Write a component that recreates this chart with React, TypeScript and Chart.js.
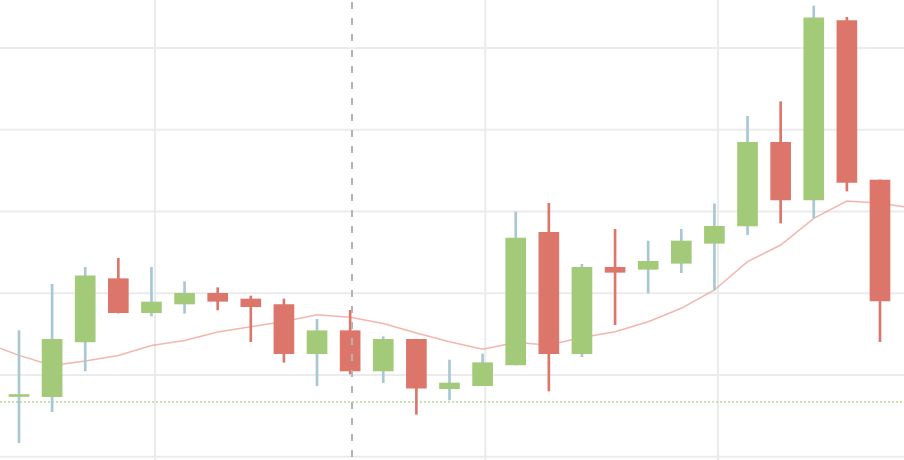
import React, { useEffect, useRef } from "react";
import { Chart, registerables } from "chart.js";

Chart.register(...registerables);

// Candle index positions (trading days)
const days = Array.from({ length: 27 }, (_, i) => i);

const opens = [2186.85, 2186.73, 2220.18, 2258.9, 2238.1, 2243.43, 2249.97, 2246.48, 2243.0, 2213.03, 2227.09, 2202.45, 2221.83, 2191.62, 2193.46, 2206.12, 2287.28, 2213.03, 2265.87, 2264.65, 2268.32, 2280.55, 2291.13, 2342.32, 2307.03, 2416.7, 2319.27];
const closes = [2187.77, 2221.83, 2260.73, 2238.1, 2244.65, 2249.97, 2245.08, 2241.77, 2213.03, 2227.09, 2202.45, 2221.83, 2191.87, 2195.11, 2207.52, 2283.79, 2213.03, 2265.87, 2262.81, 2269.54, 2281.96, 2290.95, 2342.32, 2307.03, 2418.53, 2317.86, 2245.26];
const lows = [2158.59, 2177.55, 2202.45, 2237.9, 2236.09, 2237.74, 2239.76, 2220.37, 2207.77, 2193.46, 2200.61, 2195.29, 2175.96, 2184.71, 2193.46, 2206.12, 2190.21, 2211.19, 2230.76, 2250.15, 2262.57, 2251.99, 2285.81, 2292.97, 2296.21, 2312.54, 2220.37];
const highs = [2227.09, 2255.47, 2265.87, 2271.38, 2265.87, 2257.06, 2253.39, 2248.32, 2246.48, 2234.07, 2239.57, 2223.43, 2221.83, 2209.17, 2212.84, 2299.69, 2305.01, 2267.71, 2289.11, 2281.96, 2289.11, 2304.77, 2358.23, 2367.16, 2425.69, 2418.78, 2319.27];

// Moving average, from one day before to one day after the visible window
const maDays = Array.from({ length: 29 }, (_, i) => i - 1);
const maValues = [2219.57, 2211.99, 2205.81, 2208.56, 2211.93, 2218.04, 2221.1, 2226.3, 2229.54, 2232.72, 2236.88, 2235.29, 2231.5, 2225.69, 2220.37, 2215.72, 2219.88, 2218.35, 2222.94, 2226.48, 2232.6, 2240.79, 2251.99, 2269.3, 2279.51, 2295.84, 2306.42, 2305.01, 2302.14];

const yGridValues = [2400, 2350, 2300, 2250, 2200, 2150];
const xGridValues = [4.107, 14.081, 21.108];
const crosshairX = 10.056;
const markLineY = 2183.67;

const X_MIN = -0.5738;
const X_MAX = 26.725;
const Y_MIN = 2148.01;
const Y_MAX = 2429.36;

const UP = "#a3ca78";
const DOWN = "#dc766b";
const UP_WICK = "#a7c8d2";

const overlayPlugin = {
  id: "overlay",
  beforeDatasetsDraw(chart: any) {
    const { ctx, chartArea, scales } = chart;
    const xs = scales.x;
    const ys = scales.y;
    ctx.save();
    ctx.strokeStyle = "#ebebeb";
    ctx.lineWidth = 2;
    for (const v of yGridValues) {
      const p = ys.getPixelForValue(v);
      ctx.beginPath();
      ctx.moveTo(chartArea.left, p);
      ctx.lineTo(chartArea.right, p);
      ctx.stroke();
    }
    for (const v of xGridValues) {
      const p = xs.getPixelForValue(v);
      ctx.beginPath();
      ctx.moveTo(p, chartArea.top);
      ctx.lineTo(p, chartArea.bottom);
      ctx.stroke();
    }
    // dotted mark line
    const my = Math.round(ys.getPixelForValue(markLineY));
    ctx.strokeStyle = "#c6e2ae";
    ctx.lineWidth = 2;
    ctx.setLineDash([2, 2]);
    ctx.beginPath();
    ctx.moveTo(chartArea.left, my);
    ctx.lineTo(chartArea.right, my);
    ctx.stroke();
    ctx.restore();
  },
  afterDatasetsDraw(chart: any) {
    const { ctx, chartArea, scales } = chart;
    const p = scales.x.getPixelForValue(crosshairX);
    ctx.save();
    ctx.strokeStyle = "#b4b4b4";
    ctx.lineWidth = 2;
    ctx.setLineDash([7, 9]);
    ctx.lineDashOffset = -2;
    ctx.beginPath();
    ctx.moveTo(p, chartArea.top);
    ctx.lineTo(p, chartArea.bottom);
    ctx.stroke();
    ctx.restore();
  },
};

export default function App() {
  const ref = useRef<HTMLCanvasElement | null>(null);

  useEffect(() => {
    if (!ref.current) return;
    const isUp = (i: number) => closes[i] >= opens[i];
    const chart = new Chart(ref.current, {
      type: "bar",
      data: {
        datasets: [
          {
            type: "bar",
            label: "body",
            data: days.map((d, i) => ({ x: d, y: [opens[i], closes[i]] })) as any,
            backgroundColor: days.map((_, i) => (isUp(i) ? UP : DOWN)),
            borderWidth: 0,
            barThickness: 20,
            minBarLength: 2,
            grouped: false,
            order: 1,
          } as any,
          {
            type: "bar",
            label: "wick",
            data: days.map((d, i) => ({ x: d, y: [lows[i], highs[i]] })) as any,
            backgroundColor: days.map((_, i) => (isUp(i) ? UP_WICK : DOWN)),
            borderWidth: 0,
            barThickness: 2,
            grouped: false,
            order: 2,
          } as any,
          {
            type: "line",
            label: "MA",
            data: maDays.map((d, i) => ({ x: d, y: maValues[i] })) as any,
            borderColor: "rgba(238,150,140,0.7)",
            borderWidth: 1.5,
            pointRadius: 0,
            tension: 0,
            fill: false,
            order: 3,
          } as any,
        ],
      },
      options: {
        animation: false,
        responsive: false,
        devicePixelRatio: 1,
        layout: { padding: 0 },
        plugins: {
          legend: { display: false },
          tooltip: { enabled: false },
        },
        scales: {
          x: { type: "linear", min: X_MIN, max: X_MAX, display: false, offset: false },
          y: { type: "linear", min: Y_MIN, max: Y_MAX, display: false },
        },
      } as any,
      plugins: [overlayPlugin],
    });
    return () => chart.destroy();
  }, []);

  return (
    <div style={{ position: "absolute", left: 0, top: 0, width: 904, height: 460, background: "#fff" }}>
      <canvas ref={ref} width={904} height={460} style={{ display: "block" }} />
    </div>
  );
}
